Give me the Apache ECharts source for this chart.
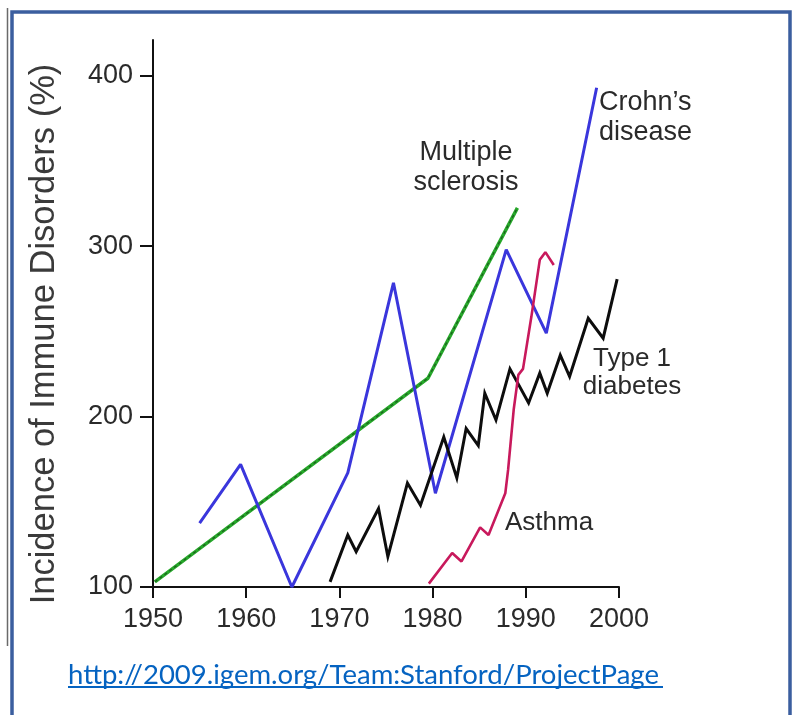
<!DOCTYPE html>
<html>
<head>
<meta charset="utf-8">
<script src="https://cdn.jsdelivr.net/npm/echarts@6/dist/echarts.min.js"></script>
<style>
html,body{margin:0;padding:0;background:#fff;}
#c{width:795px;height:715px;}
</style>
</head>
<body>
<div id="c"></div>
<script>
// ---- data ----
var xTicks = [1950, 1960, 1970, 1980, 1990, 2000];
var yTicks = [100, 200, 300, 400];

var msYears = [1950.2, 1979.5, 1989.1];
var msVals  = [103, 222.5, 322.5];

var crohnYears = [1955.0, 1959.4, 1964.9, 1970.9, 1975.8, 1980.3, 1987.9, 1992.2, 1997.6];
var crohnVals  = [137.5, 172, 100, 167, 278.5, 155, 298, 249, 393];

var diabYears = [1969.0, 1970.9, 1971.8, 1974.2, 1975.2, 1977.3, 1978.7, 1981.2, 1982.6, 1983.6, 1984.9,
                 1985.6, 1986.8, 1988.3, 1990.3, 1991.5, 1992.3, 1993.7, 1994.7, 1996.7, 1998.3, 1999.8];
var diabVals  = [103, 130.5, 120.7, 146, 117.8, 161, 148, 188, 164, 193, 183,
                 213.7, 198, 228, 208, 225.5, 213.7, 236, 223.5, 257.7, 246, 280.7];

var asthmaYears = [1979.6, 1982.1, 1983.1, 1985.1, 1986.0, 1987.8, 1988.1, 1988.7, 1989.2, 1989.7, 1990.6, 1991.5, 1992.1, 1993.0];
var asthmaVals  = [102, 120, 115, 135, 130.5, 155, 168.7, 204, 224.5, 228, 258.7, 292, 296.5, 289];

var yTitle = 'Incidence of Immune Disorders (%)';
var linkText = 'http://2009.igem.org/Team:Stanford/ProjectPage';

function pairs(xs, ys) { return xs.map(function (x, i) { return [x, ys[i]]; }); }

var chart = echarts.init(document.getElementById('c'), null, {renderer: 'canvas'});
var FONT = '"Liberation Sans", Arial, sans-serif';
var TXT = '#2a2a2a';

var option = {
  animation: false,
  backgroundColor: '#ffffff',
  grid: {left: 153, right: 176, top: 40, bottom: 128},
  xAxis: {
    type: 'value', min: 1950, max: 2000, interval: 10,
    axisLine: {show: true, lineStyle: {color: '#111', width: 2}},
    axisTick: {show: true, length: 11, lineStyle: {color: '#111', width: 2}, customValues: xTicks},
    axisLabel: {margin: 19, fontSize: 27, color: TXT, fontFamily: FONT, customValues: xTicks,
                formatter: function (v) { return String(v); }},
    splitLine: {show: false}
  },
  yAxis: {
    type: 'value', min: 100, max: 421, interval: 100,
    axisLine: {show: true, lineStyle: {color: '#111', width: 2}},
    axisTick: {show: true, length: 13, lineStyle: {color: '#111', width: 2}, customValues: yTicks},
    axisLabel: {margin: 20, fontSize: 27, color: TXT, fontFamily: FONT, customValues: yTicks},
    splitLine: {show: false}
  },
  series: [
    {type: 'line', name: 'Multiple sclerosis', data: pairs(msYears, msVals), symbol: 'none',
     lineStyle: {color: '#26a82a', width: 3.5}, z: 2},
    {type: 'line', name: 'Multiple sclerosis (shade)', data: pairs(msYears, msVals), symbol: 'none',
     lineStyle: {color: '#1a3a1a', width: 1.2, type: [3, 3], opacity: 0.7}, z: 3},
    {type: 'line', name: "Crohn's disease", data: pairs(crohnYears, crohnVals), symbol: 'none',
     lineStyle: {color: '#3a36dc', width: 3}, z: 4},
    {type: 'line', name: 'Type 1 diabetes', data: pairs(diabYears, diabVals), symbol: 'none',
     lineStyle: {color: '#0d0d0d', width: 3, join: 'miter'}, z: 5},
    {type: 'line', name: 'Asthma', data: pairs(asthmaYears, asthmaVals), symbol: 'none',
     lineStyle: {color: '#c8195c', width: 2.6}, z: 6}
  ],
  graphic: [
    {type: 'rect', shape: {x: 12, y: 12, width: 778, height: 730}, silent: true,
     style: {fill: null, stroke: '#3b5e9f', lineWidth: 3.5}, z: 100},
    {type: 'line', shape: {x1: 7.5, y1: 8, x2: 7.5, y2: 646}, silent: true,
     style: {stroke: '#6a6a6a', lineWidth: 1.5}, z: 100},
    {type: 'text', x: 44, y: 334, rotation: Math.PI / 2, silent: true,
     style: {text: yTitle, font: '34.5px ' + FONT, fill: '#3a3a3a', align: 'center', verticalAlign: 'middle'}},
    {type: 'text', x: 466, y: 138, silent: true,
     style: {text: 'Multiple\nsclerosis', font: '27px ' + FONT, fill: TXT, align: 'center', verticalAlign: 'top', lineHeight: 30}},
    {type: 'text', x: 599, y: 88, silent: true,
     style: {text: 'Crohn\u2019s\ndisease', font: '27px ' + FONT, fill: TXT, align: 'left', verticalAlign: 'top', lineHeight: 30}},
    {type: 'text', x: 632, y: 345, silent: true,
     style: {text: 'Type 1\ndiabetes', font: '26px ' + FONT, fill: TXT, align: 'center', verticalAlign: 'top', lineHeight: 28}},
    {type: 'text', x: 505, y: 510, silent: true,
     style: {text: 'Asthma', font: '26px ' + FONT, fill: TXT, align: 'left', verticalAlign: 'top'}},
    {type: 'text', x: 68, y: 675, silent: true,
     style: {text: linkText, font: '27.5px Lato, "Open Sans", sans-serif', fill: '#0563c1', align: 'left', verticalAlign: 'middle'}},
    {type: 'line', shape: {x1: 68, y1: 687, x2: 663, y2: 687}, silent: true,
     style: {stroke: '#0563c1', lineWidth: 2}}
  ]
};
chart.setOption(option);
</script>
</body>
</html>
